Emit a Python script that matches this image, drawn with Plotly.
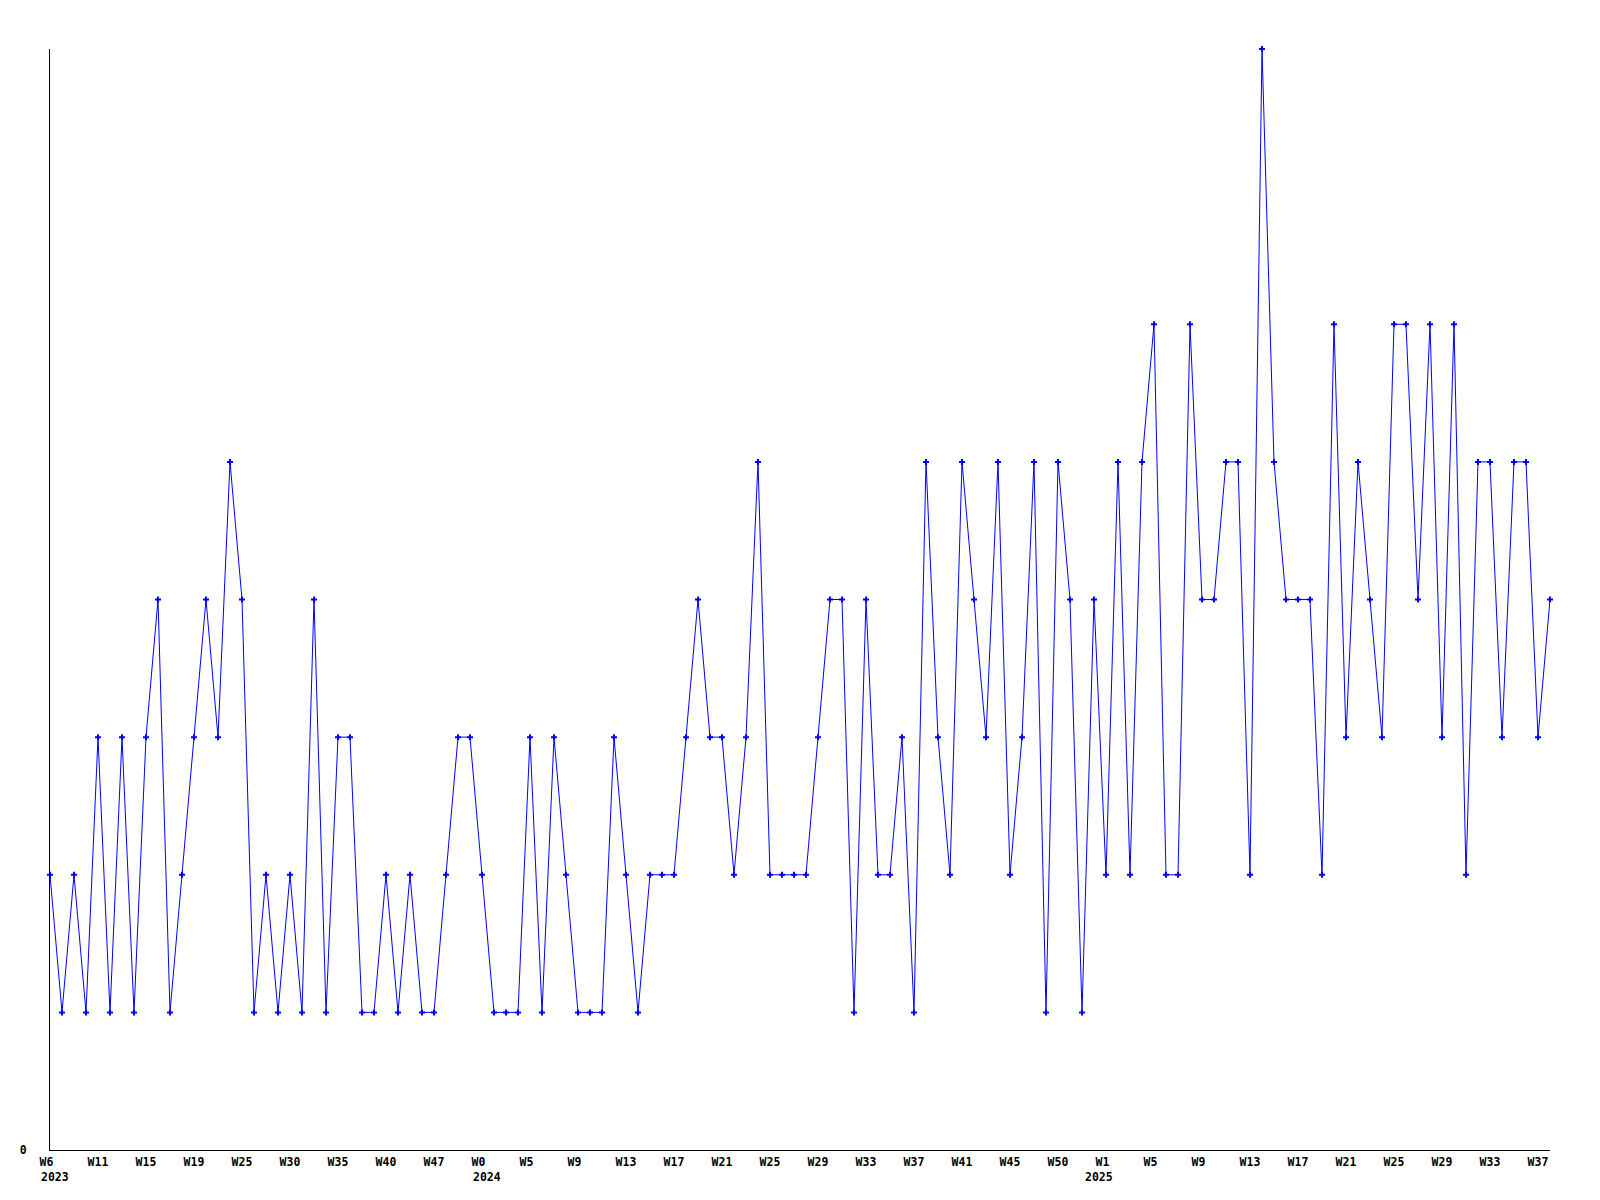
import plotly.graph_objects as go

# weekly counts
values = [2, 1, 2, 1, 3, 1, 3, 1, 3, 4, 1, 2, 3, 4, 3, 5, 4, 1, 2, 1,
          2, 1, 4, 1, 3, 3, 1, 1, 2, 1, 2, 1, 1, 2, 3, 3, 2, 1, 1, 1,
          3, 1, 3, 2, 1, 1, 1, 3, 2, 1, 2, 2, 2, 3, 4, 3, 3, 2, 3, 5,
          2, 2, 2, 2, 3, 4, 4, 1, 4, 2, 2, 3, 1, 5, 3, 2, 5, 4, 3, 5,
          2, 3, 5, 1, 5, 4, 1, 4, 2, 5, 2, 5, 6, 2, 2, 6, 4, 4, 5, 5,
          2, 8, 5, 4, 4, 4, 2, 6, 3, 5, 4, 3, 6, 6, 4, 6, 3, 6, 2, 5,
          5, 3, 5, 5, 3, 4]

week_labels = ["W6", "W11", "W15", "W19", "W25", "W30", "W35", "W40", "W47",
               "W0", "W5", "W9", "W13", "W17", "W21", "W25", "W29", "W33",
               "W37", "W41", "W45", "W50", "W1", "W5", "W9", "W13", "W17",
               "W21", "W25", "W29", "W33", "W37"]
week_label_step = 4

years = ["2023", "2024", "2025"]
year_index = [0, 36, 87]

x = list(range(len(values)))
font = dict(family="DejaVu Sans Mono", size=11.5, color="black", weight="bold")

fig = go.Figure()
fig.add_trace(go.Scatter(
    x=x, y=values, mode="lines+markers",
    line=dict(color="#0000ff", width=1),
    marker=dict(symbol="cross", size=5, color="#0000ff"),
    cliponaxis=False, hoverinfo="x+y",
))

# year labels sit under the week labels, left-aligned with the point
for yr, i in zip(years, year_index):
    fig.add_annotation(x=i, y=0, xref="x", yref="paper", text=yr,
                       showarrow=False, xanchor="left", yanchor="top",
                       xshift=-11, yshift=-18, font=font)

# page body has an 8px margin, so the figure is a bit smaller than the window
fig.update_layout(
    width=1584, height=1184,
    margin=dict(l=42, r=42, t=41, b=42),
    paper_bgcolor="white", plot_bgcolor="white",
    showlegend=False,
    font=font,
)
fig.update_xaxes(
    range=[0, len(values) - 1],
    tickvals=x[::week_label_step],
    ticktext=[w.ljust(3, "\u00a0") for w in week_labels],
    showgrid=False, zeroline=False, ticks="",
    showline=True, linecolor="black", linewidth=1,
    tickfont=font, ticklabelstandoff=1,
)
fig.update_yaxes(
    range=[0, 8],
    tickvals=[0], ticktext=["0"],
    showgrid=False, zeroline=False, ticks="",
    showline=True, linecolor="black", linewidth=1,
    tickfont=font, ticklabelstandoff=20,
)

fig.write_html("out.html")
